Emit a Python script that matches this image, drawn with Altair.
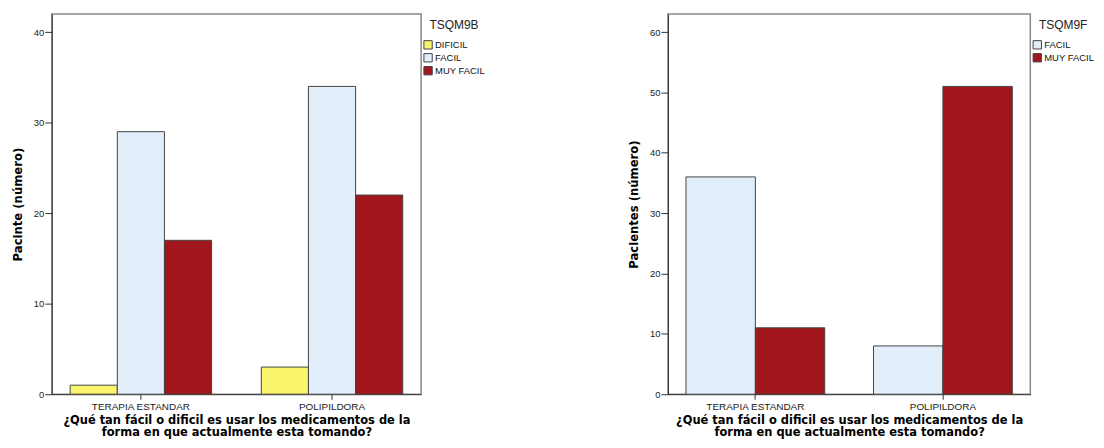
import altair as alt
import pandas as pd

groups = ["TERAPIA ESTANDAR", "POLIPILDORA"]

left_cats = ["DIFICIL", "FACIL", "MUY FACIL"]
left_colors = ["#F8F46C", "#E2EEFA", "#A0161B"]
left_terapia = [1, 29, 17]
left_polip = [3, 34, 22]

right_cats = ["FACIL", "MUY FACIL"]
right_colors = ["#E2EEFA", "#A0161B"]
right_terapia = [36, 11]
right_polip = [8, 51]

x_title = ["¿Qué tan fácil o dificil es usar los medicamentos de la",
           "forma en que actualmente esta tomando?"]

def make_df(cats, a, b):
    rows = []
    for c, v in zip(cats, a):
        rows.append({"grupo": groups[0], "resp": c, "n": v})
    for c, v in zip(cats, b):
        rows.append({"grupo": groups[1], "resp": c, "n": v})
    return pd.DataFrame(rows)

FONT = "Liberation Sans"
TFONT = "DejaVu Sans"

def panel(df, cats, colors, ytitle, ymax, legend_title, w):
    return alt.Chart(df).mark_bar(stroke="#444444", strokeWidth=1).encode(
        x=alt.X("grupo:N", sort=groups,
                scale=alt.Scale(paddingInner=0.26, paddingOuter=0.096),
                axis=alt.Axis(title=x_title, labelAngle=0, labelFontSize=10,
                              labelColor="#222222", labelFont=FONT,
                              titleFont=TFONT, titleFontSize=11.5, titleFontWeight="bold",
                              titleColor="#000000", titlePadding=3, titleLineHeight=12.5,
                              tickSize=5, tickColor="#333333", domainColor="#333333",
                              labelPadding=2)),
        xOffset=alt.XOffset("resp:N", sort=cats,
                            scale=alt.Scale(domain=cats, paddingInner=0, paddingOuter=0)),
        y=alt.Y("n:Q", scale=alt.Scale(domain=[0, ymax], nice=False),
                axis=alt.Axis(title=ytitle, values=list(range(0, ymax, 10)),
                              grid=False, labelFontSize=9.5, labelColor="#222222",
                              labelFont=FONT, titleFont=TFONT, titleFontSize=11.7,
                              titleFontWeight="bold", titleColor="#000000",
                              tickSize=7, tickColor="#333333", domainColor="#333333",
                              labelPadding=1, titlePadding=10)),
        color=alt.Color("resp:N", sort=cats,
                        scale=alt.Scale(domain=cats, range=colors),
                        legend=alt.Legend(title=legend_title, titleFont=FONT,
                                          titleFontSize=12, titleFontWeight="normal",
                                          titleColor="#222222", labelFont=FONT,
                                          labelFontSize=9.5, labelColor="#111111",
                                          titleAnchor="middle", titleAlign="center",
                                          symbolType="square", symbolSize=70,
                                          symbolStrokeColor="#444444",
                                          symbolStrokeWidth=1, symbolOpacity=1,
                                          rowPadding=-1, titlePadding=8,
                                          orient="none", legendX=w + 2, legendY=6,
                                          labelOffset=2)),
    ).properties(width=w, height=382)

left = panel(make_df(left_cats, left_terapia, left_polip), left_cats, left_colors,
             "Pacinte (número)", 42, "TSQM9B", 371)
right = panel(make_df(right_cats, right_terapia, right_polip), right_cats, right_colors,
              "Pacientes (número)", 63, "TSQM9F", 364)

chart = alt.hconcat(left, right, spacing=141).resolve_scale(
    color="independent", y="independent", x="independent", xOffset="independent"
).configure_view(stroke="#888888", strokeWidth=1.5).properties(
    padding={"left": 3, "top": 4, "right": 0, "bottom": 0}
)

chart.save("out.html", embed_options={"renderer": "svg", "actions": False})
